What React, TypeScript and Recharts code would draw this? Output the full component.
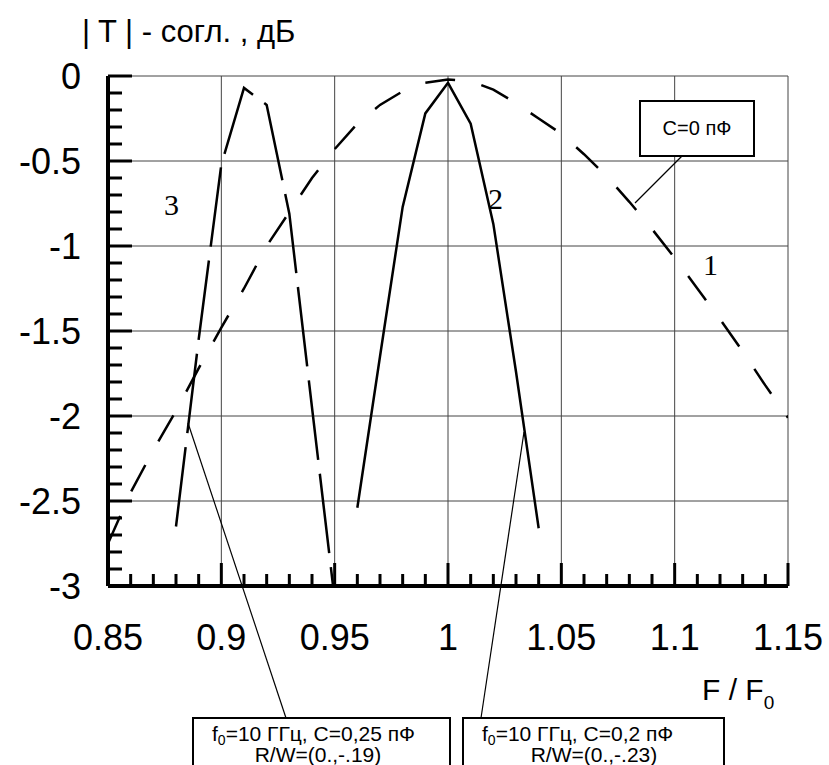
import React from "react";
import { LineChart, Line, XAxis, YAxis, ReferenceLine } from "recharts";

// curve 1: C = 0 pF
const freq1 = [
  0.85, 0.86, 0.87, 0.88, 0.89, 0.9, 0.91, 0.92, 0.93, 0.94, 0.95, 0.96, 0.97, 0.98, 0.99, 1.0,
  1.01, 1.02, 1.03, 1.04, 1.05, 1.06, 1.07, 1.08, 1.09, 1.1, 1.11, 1.12, 1.13, 1.14, 1.15,
];
const db1 = [
  -2.75, -2.45, -2.2, -1.97, -1.72, -1.48, -1.25, -1.0, -0.8, -0.6, -0.43, -0.28, -0.17, -0.09,
  -0.04, -0.02, -0.03, -0.08, -0.16, -0.25, -0.34, -0.46, -0.59, -0.74, -0.9, -1.07, -1.25,
  -1.43, -1.62, -1.82, -2.01,
];

// curve 2: C = 0.2 pF
const freq2 = [0.96, 0.97, 0.98, 0.99, 1.0, 1.01, 1.02, 1.03, 1.04];
const db2 = [-2.54, -1.65, -0.77, -0.22, -0.04, -0.28, -0.87, -1.74, -2.66];

// curve 3: C = 0.25 pF
const freq3 = [0.88, 0.89, 0.9, 0.91, 0.92, 0.93, 0.94, 0.95];
const db3 = [-2.65, -1.55, -0.52, -0.07, -0.17, -0.81, -1.95, -3.08];

const majorX = [0.85, 0.9, 0.95, 1, 1.05, 1.1, 1.15];
const minorX = [
  0.85, 0.86, 0.87, 0.88, 0.89, 0.9, 0.91, 0.92, 0.93, 0.94, 0.95, 0.96, 0.97, 0.98, 0.99, 1,
  1.01, 1.02, 1.03, 1.04, 1.05, 1.06, 1.07, 1.08, 1.09, 1.1, 1.11, 1.12, 1.13, 1.14, 1.15,
];
const majorY = [-3, -2.5, -2, -1.5, -1, -0.5, 0];
const minorY = [
  -3, -2.9, -2.8, -2.7, -2.6, -2.5, -2.4, -2.3, -2.2, -2.1, -2, -1.9, -1.8, -1.7, -1.6, -1.5,
  -1.4, -1.3, -1.2, -1.1, -1, -0.9, -0.8, -0.7, -0.6, -0.5, -0.4, -0.3, -0.2, -0.1, 0,
];

const toRows = (fs: number[], vs: number[]) => fs.map((f, i) => ({ f, db: vs[i] }));
const curve1 = toRows(freq1, db1);
const curve2 = toRows(freq2, db2);
const curve3 = toRows(freq3, db3);

const SANS = "'Liberation Sans', Arial, sans-serif";
const SERIF = "'Liberation Serif', 'Times New Roman', serif";
const X_DOMAIN: [number, number] = [0.85, 1.15];
const Y_DOMAIN: [number, number] = [-3, 0];

const inList = (list: number[], v: number) => list.some((m) => Math.abs(m - v) < 1e-9);

// tick marks point into the plot, labels only on the major ticks
function XTick(props: any) {
  const { x, y, payload } = props;
  const v = payload.value;
  const major = inList(majorX, v);
  return (
    <g>
      <line x1={x} y1={y} x2={x} y2={y - (major ? 23 : 12)} stroke="#000" strokeWidth={3} />
      {major && (
        <text x={x} y={y + 64} textAnchor="middle" fontSize={36} fontFamily={SANS} fill="#000">
          {String(v)}
        </text>
      )}
    </g>
  );
}

function YTick(props: any) {
  const { x, y, payload } = props;
  const v = payload.value;
  const major = inList(majorY, v);
  return (
    <g>
      <line x1={x} y1={y} x2={x + (major ? 24 : 14)} y2={y} stroke="#000" strokeWidth={3} />
      {major && (
        <text x={x - 27} y={y + 13} textAnchor="end" fontSize={36} fontFamily={SANS} fill="#000">
          {String(v)}
        </text>
      )}
    </g>
  );
}

export default function App() {
  return (
    <div
      style={{
        position: "absolute",
        left: 0,
        top: 0,
        width: 829,
        height: 765,
        background: "#fff",
        overflow: "hidden",
      }}
    >
      <LineChart
        width={829}
        height={765}
        margin={{ top: 76, right: 41, bottom: 119, left: 0 }}
      >
        {majorX.slice(1).map((v) => (
          <ReferenceLine key={"gx" + v} x={v} stroke="#444" strokeWidth={1} />
        ))}
        {majorY.slice(1).map((v) => (
          <ReferenceLine key={"gy" + v} y={v} stroke="#444" strokeWidth={1} />
        ))}
        <XAxis
          type="number"
          dataKey="f"
          domain={X_DOMAIN}
          ticks={minorX}
          interval={0}
          allowDataOverflow
          height={60}
          axisLine={{ stroke: "#000", strokeWidth: 4 }}
          tickLine={false}
          tickSize={0}
          tickMargin={0}
          tick={<XTick />}
        />
        <YAxis
          type="number"
          domain={Y_DOMAIN}
          ticks={minorY}
          interval={0}
          allowDataOverflow
          width={108}
          axisLine={{ stroke: "#000", strokeWidth: 4 }}
          tickLine={false}
          tickSize={0}
          tickMargin={0}
          tick={<YTick />}
        />
        <Line
          data={curve1}
          dataKey="db"
          type="linear"
          stroke="#000"
          strokeWidth={2.5}
          strokeDasharray="30 27"
          dot={false}
          isAnimationActive={false}
        />
        <Line
          data={curve2}
          dataKey="db"
          type="linear"
          stroke="#000"
          strokeWidth={2.5}
          dot={false}
          isAnimationActive={false}
        />
        <Line
          data={curve3}
          dataKey="db"
          type="linear"
          stroke="#000"
          strokeWidth={2.5}
          strokeDasharray="80 14"
          dot={false}
          isAnimationActive={false}
        />
      </LineChart>

      <svg
        width={829}
        height={765}
        style={{ position: "absolute", left: 0, top: 0, pointerEvents: "none" }}
      >
        <g fontFamily={SANS} fill="#000">
          <text x={82} y={42} fontSize={31}>
            | T | - согл. , дБ
          </text>
          <text x={702} y={700} fontSize={30}>
            F / F
            <tspan fontSize={19} dy={9}>
              0
            </tspan>
          </text>

          {/* C=0 legend */}
          <rect x={640} y={101} width={114} height={55} fill="#fff" stroke="#000" strokeWidth={2} />
          <text x={697} y={135} fontSize={20} textAnchor="middle">
            C=0 пФ
          </text>
          <line x1={682} y1={156} x2={635} y2={203} stroke="#000" strokeWidth={1.2} />

          {/* bottom boxes */}
          <rect x={193} y={718} width={257} height={70} fill="#fff" stroke="#000" strokeWidth={2} />
          <text x={212} y={741} fontSize={21}>
            f
            <tspan fontSize={14} dy={4}>
              0
            </tspan>
            <tspan dy={-4}>=10 ГГц, C=0,25 пФ</tspan>
          </text>
          <text x={318} y={762} fontSize={21} textAnchor="middle">
            R/W=(0.,-.19)
          </text>
          <line x1={188} y1={423} x2={286} y2={718} stroke="#000" strokeWidth={1.2} />

          <rect x={463} y={718} width={261} height={70} fill="#fff" stroke="#000" strokeWidth={2} />
          <text x={482} y={741} fontSize={21}>
            f
            <tspan fontSize={14} dy={4}>
              0
            </tspan>
            <tspan dy={-4}>=10 ГГц, C=0,2 пФ</tspan>
          </text>
          <text x={594} y={762} fontSize={21} textAnchor="middle">
            R/W=(0.,-.23)
          </text>
          <line x1={524} y1={432} x2={481} y2={718} stroke="#000" strokeWidth={1.2} />
        </g>
        <g fontFamily={SERIF} fill="#000" fontSize={30}>
          <text x={164} y={215}>3</text>
          <text x={488} y={209}>2</text>
          <text x={703} y={275}>1</text>
        </g>
      </svg>
    </div>
  );
}
